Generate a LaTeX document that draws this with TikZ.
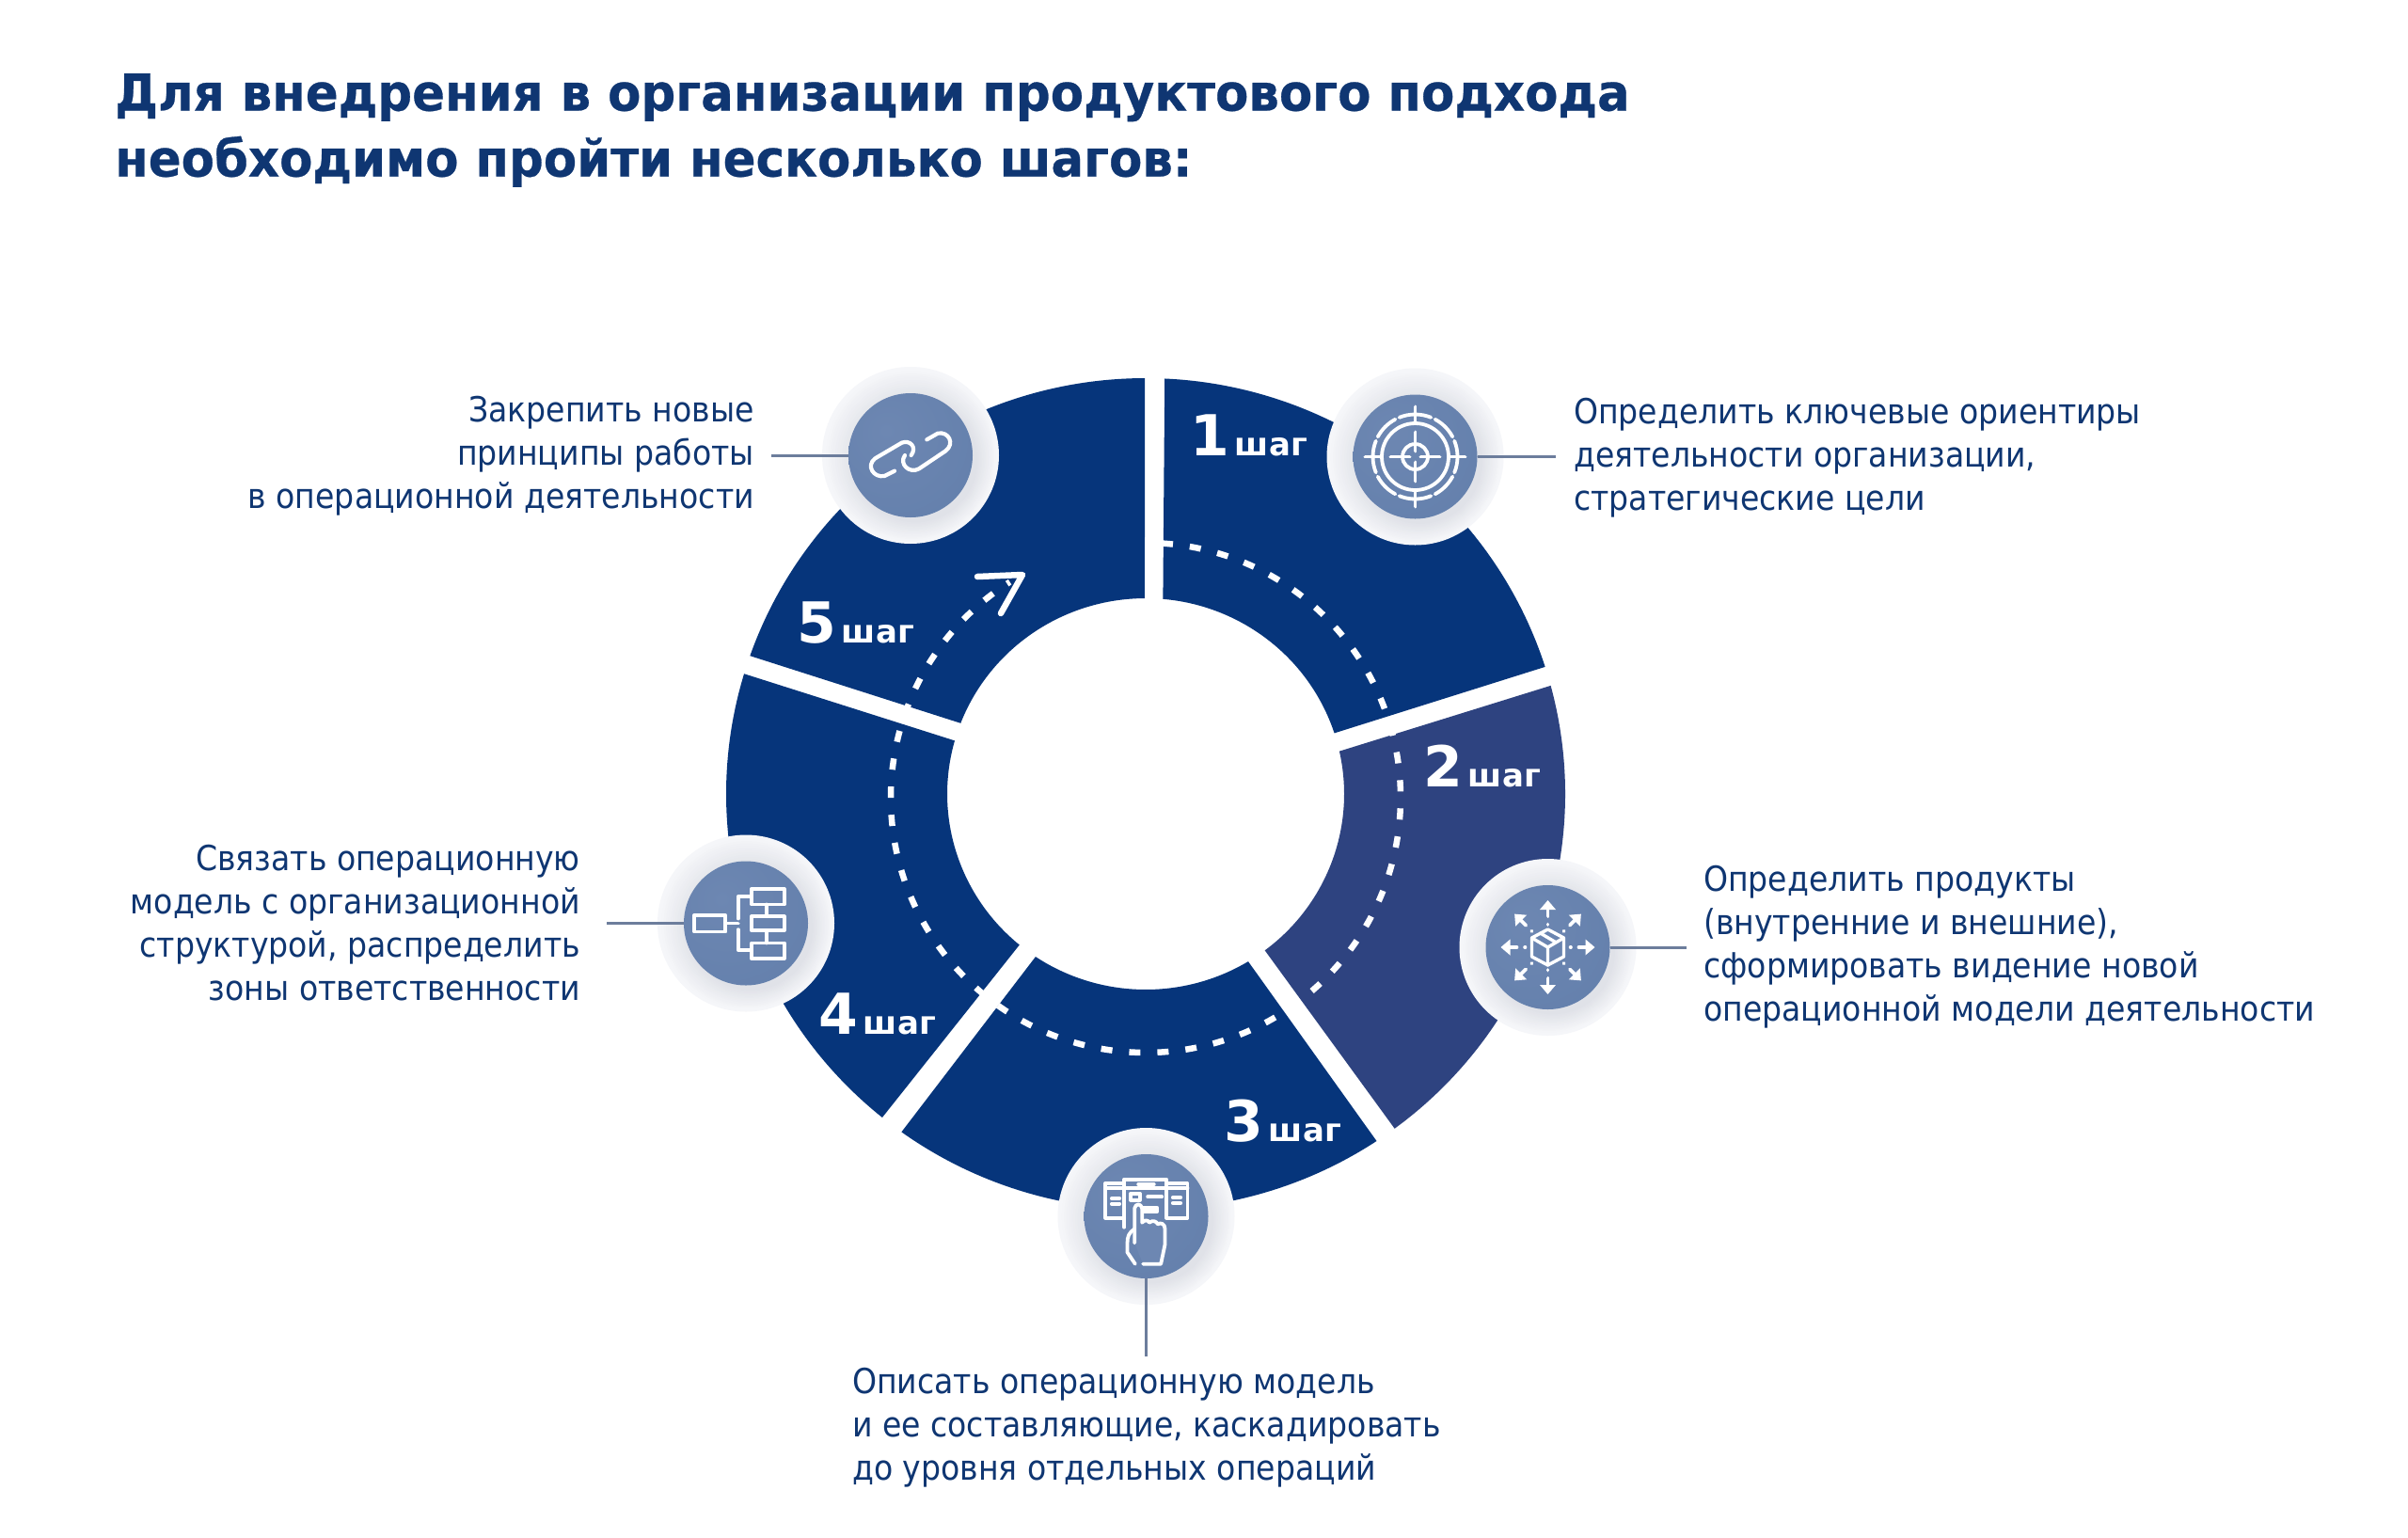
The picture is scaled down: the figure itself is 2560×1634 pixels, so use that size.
\documentclass[tikz,border=0pt]{standalone}
\usepackage{fontspec}
\setmainfont{DejaVu Sans}
\newfontfamily\bodyf{DejaVu Sans}[FakeStretch=0.9]
\newfontfamily\headf{DejaVu Sans}[BoldFeatures={FakeStretch=0.953,FakeBold=0.5}]
\definecolor{navy}{HTML}{06357B}
\definecolor{navyb}{HTML}{2E4380}
\definecolor{ink}{HTML}{0F3672}
\definecolor{leader}{HTML}{6C7D9C}
\definecolor{haloa}{HTML}{E0E2E8}
\definecolor{haloc}{HTML}{F5F6F9}
\definecolor{disca}{HTML}{6D87B2}
\definecolor{discb}{HTML}{5F7CA9}
\pgfdeclareradialshading{discfill}{\pgfpoint{-10bp}{10bp}}{color(0bp)=(disca);color(60bp)=(discb);color(100bp)=(discb)}
\tikzset{
  halo/.style={circle,minimum size=188pt,inner sep=0pt,fill=haloc},
  disc/.style={circle,minimum size=132pt,inner sep=0pt,shading=discfill},
  leaderline/.style={draw=leader,line width=3pt},
  glyph/.style={draw=white,line width=3.8pt,line cap=round,line join=round},
  bodytext/.style={text=ink,inner sep=0pt,font=\bodyf\fontsize{36.8}{46}\selectfont},
  titletext/.style={text=ink,inner sep=0pt,anchor=north west,align=left,font=\headf\bfseries\fontsize{54}{70}\selectfont},
  steplabel/.style={text=white,inner sep=0pt,anchor=base west,font=\bfseries},
}
\newcommand{\ringseg}[5]{\fill[#1] (#2:446 and 442) arc[start angle=#2,end angle=#3,x radius=446,y radius=442] -- (#4:211 and 208) arc[start angle=#4,end angle=#5,x radius=211,y radius=208] -- cycle;}
\newcommand{\stepl}[1]{{\fontsize{60}{60}\selectfont #1}\hspace{6pt}{\fontsize{34}{34}\selectfont шаг}}
\newcommand{\haloshade}[1]{\foreach \i in {0,...,13}{\pgfmathsetmacro{\mixv}{100-\i*7.5}\fill[haloc!\mixv!haloa] ($(#1)+(\i*.4,\i*.4)$) circle[radius=92-2*\i];}}
\usetikzlibrary{calc}
\begin{document}
\begin{tikzpicture}[x=1pt,y=-1pt]
\useasboundingbox (0,0) rectangle (2560,1634);
\fill[white] (0,0) rectangle (2560,1634);
% ring
\begin{scope}[shift={(1218,844)},y=1pt]
\ringseg{navy}{87.4}{17.8}{18.1}{85.0}
\ringseg{navyb}{15.1}{-53.6}{-53.1}{12.6}
\ringseg{navy}{-56.6}{-125.6}{-123.7}{-58.9}
\ringseg{navy}{-128.9}{-196.8}{-195.8}{-129.5}
\ringseg{navy}{160.6}{90.1}{90.3}{158.8}
\end{scope}
% dashed flow
\begin{scope}[shift={(1218,848)},y=1pt]
\draw[white,line width=6.5pt,dash pattern=on 12pt off 18pt] (86.4:271) arc[start angle=86.4,end angle=-237.8,radius=271];
\end{scope}
\coordinate (h1) at (1039,613);
\coordinate (h2) at (1087,611);
\coordinate (h3) at (1064,652);
\draw[white,line width=6.5pt,line cap=round,line join=round] (h1) -- (h2) -- (h3);
% step labels
\node[steplabel] (s1) at (1265,484) {\stepl{1}};
\node[steplabel] (s2) at (1513,836) {\stepl{2}};
\node[steplabel] (s3) at (1301,1213) {\stepl{3}};
\node[steplabel] (s4) at (870,1099) {\stepl{4}};
\node[steplabel] (s5) at (847,683) {\stepl{5}};
% circles
\node[halo] (ha1) at (1504.5,485.5) {};
\node[halo] (ha2) at (1645.5,1007) {};
\node[halo] (ha3) at (1218.5,1293) {};
\node[halo] (ha4) at (793,981.5) {};
\node[halo] (ha5) at (968,484) {};
\haloshade{ha1}
\haloshade{ha2}
\haloshade{ha3}
\haloshade{ha4}
\haloshade{ha5}
\node[disc] (d1) at (ha1) {};
\node[disc] (d2) at (ha2) {};
\node[disc] (d3) at (ha3) {};
\node[disc] (d4) at (ha4) {};
\node[disc] (d5) at (ha5) {};
% leaders
\coordinate (e1) at (1654,485.5);
\coordinate (e2) at (1793,1007);
\coordinate (e3) at (1218.5,1442);
\coordinate (e4) at (645,981.5);
\coordinate (e5) at (820,484);
\draw[leaderline] (d1.east) -- (e1);
\draw[leaderline] (d2.east) -- (e2);
\draw[leaderline] (d3.south) -- (e3);
\draw[leaderline] (d4.west) -- (e4);
\draw[leaderline] (d5.west) -- (e5);
% icon 1: target
\begin{scope}[shift={(1504.5,485.5)}]
\draw[glyph] (0,0) circle[radius=13.5] ;
\draw[glyph] (0,0) circle[radius=35.5];
\foreach \a in {0,90,180,270}{
  \draw[glyph] (\a:6) -- (\a:26);
  \draw[glyph] (\a:36) -- (\a:53);
  \draw[glyph] (\a+28:45) arc[start angle=\a+28,end angle=\a+62,radius=45];
}
\foreach \a in {0,90,180,270}{
  \draw[glyph] (\a-22:45) arc[start angle=\a-22,end angle=\a+22,radius=45];
}
\end{scope}
% icon 2: box with arrows
\begin{scope}[shift={(1645.5,1007)}]
\draw[glyph,line width=3.4pt] (0,-19) -- (17,-10) -- (17,10) -- (0,19) -- (-17,10) -- (-17,-10) -- cycle;
\draw[glyph,line width=3.4pt] (-17,-10) -- (0,0) -- (17,-10) (0,0) -- (0,19) (-8,-15) -- (9,-5);
\foreach \a in {0,45,...,315}{
  \begin{scope}[rotate=\a]
  \draw[glyph,line width=3.6pt] (24,0) -- (24.5,0);
  \draw[glyph,line width=3.8pt] (33,0) -- (44,0);
  \fill[white] (40,-8.5) -- (50,0) -- (40,8.5) -- cycle;
  \end{scope}
}
\end{scope}
% icon 3: cards and hand
\begin{scope}[shift={(1218.5,1293)},scale=.3333,shift={(-355,-310)}]
\draw[glyph] (285,205) -- (225,205) -- (225,315) -- (285,315);
\draw[glyph] (420,205) -- (487,205) -- (487,315) -- (420,315);
\draw[glyph] (285,345) -- (285,192) -- (420,192) -- (420,315);
\draw[glyph] (225,220) -- (285,220) (285,220) -- (420,220) (420,220) -- (487,220);
\draw[glyph] (330,208) -- (380,208);
\draw[glyph] (245,253) -- (270,253) (245,270) -- (270,270);
\draw[glyph] (440,250) -- (465,250) (440,268) -- (465,268);
\draw[glyph] (305,238) rectangle (335,258);
\draw[glyph] (360,248) -- (405,248);
\draw[glyph] (345,282) -- (390,282) -- (390,295) -- (345,295);
\draw[glyph,fill=disca] (318,395) -- (318,285) .. controls (320,268) and (340,268) .. (342,285) -- (342,330) .. controls (350,320) and (362,322) .. (365,330) .. controls (375,322) and (388,325) .. (392,335) .. controls (402,328) and (415,335) .. (415,350) -- (415,400) -- (402,462) -- (345,462);
\draw[glyph] (318,350) .. controls (300,362) and (295,375) .. (295,395) -- (295,425) -- (320,462);
\end{scope}
% icon 4: org chart
\begin{scope}[shift={(793,981.5)},scale=.3333,shift={(-340,-305)}]
\draw[glyph] (175,280) rectangle (275,332);
\draw[glyph] (358,195) rectangle (462,245);
\draw[glyph] (358,283) -- (462,283) -- (462,328) -- (358,328) -- cycle;
\draw[glyph] (358,368) rectangle (462,418);
\draw[glyph] (275,305) -- (315,305);
\draw[glyph] (358,220) -- (315,220) -- (315,290);
\draw[glyph] (315,325) -- (315,390) -- (358,390);
\draw[glyph] (405,245) -- (405,283) (405,328) -- (405,368);
\end{scope}
% icon 5: chain
\begin{scope}[shift={(968,484)},scale=.3333,shift={(-323,-312)}]
\draw[glyph,line width=4.2pt] (272,362) -- (240,378) .. controls (205,385) and (180,345) .. (210,322) -- (295,272) .. controls (320,262) and (345,285) .. (325,312);
\draw[glyph,line width=4.2pt] (375,262) -- (410,242) .. controls (445,235) and (465,275) .. (435,298) -- (350,355) .. controls (320,372) and (285,340) .. (305,312);
\end{scope}
% texts
\node[titletext] (title) at (122,78) {Для внедрения в организации продуктового подхода\\необходимо пройти несколько шагов:};
\node[bodytext,anchor=north west,align=left] (t1) at (1673,423) {Определить ключевые ориентиры\\деятельности организации,\\стратегические цели};
\node[bodytext,anchor=north west,align=left] (t2) at (1811,920) {Определить продукты\\(внутренние и внешние),\\сформировать видение новой\\операционной модели деятельности};
\node[bodytext,anchor=north west,align=left] (t3) at (906,1454) {Описать операционную модель\\и ее составляющие, каскадировать\\до уровня отдельных операций};
\node[bodytext,anchor=north east,align=right] (t4) at (617,898) {Связать операционную\\модель с организационной\\структурой, распределить\\зоны ответственности};
\node[bodytext,anchor=north east,align=right] (t5) at (802,421) {Закрепить новые\\принципы работы\\в операционной деятельности};
\end{tikzpicture}
\end{document}
